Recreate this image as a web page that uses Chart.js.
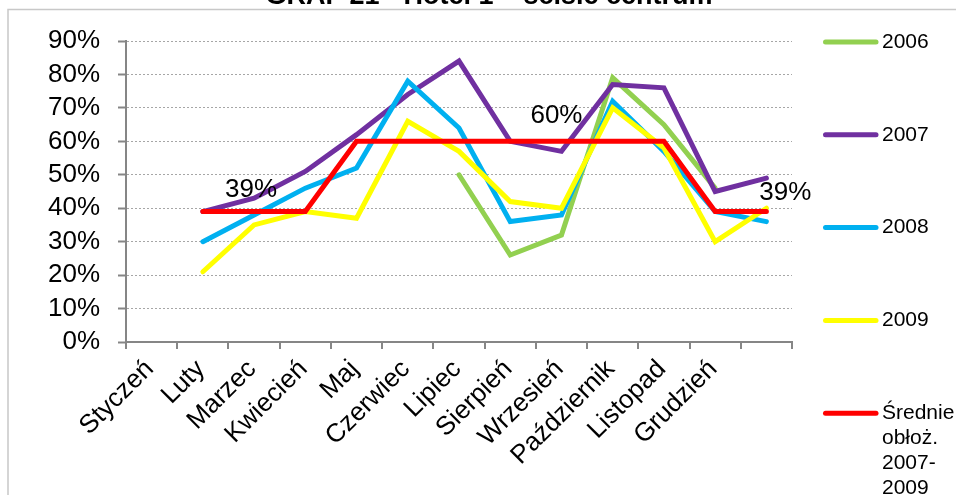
<!DOCTYPE html>
<html>
<head>
<meta charset="utf-8">
<title>GRAF 21 - Hotel 1</title>
<script src="https://cdn.jsdelivr.net/npm/chart.js@4.4.0/dist/chart.umd.min.js"></script>
<style>
  html, body { margin: 0; padding: 0; background: #fff; overflow: hidden; }
  #wrap { width: 956px; height: 495px; position: relative; }
</style>
</head>
<body>
<div id="wrap"><canvas id="chart" width="956" height="495"></canvas></div>
<script>
// Monthly occupancy (%) per year; the 13th slot closes the category axis.
const months = ['Styczeń', 'Luty', 'Marzec', 'Kwiecień', 'Maj', 'Czerwiec', 'Lipiec',
                'Sierpień', 'Wrzesień', 'Październik', 'Listopad', 'Grudzień', ''];
const occ2006 = [null, null, null, null, null, null, 50, 26, 32, 79, 65, 46, null];
const occ2007 = [null, 39, 43, 51, 62, 74, 84, 60, 57, 77, 76, 45, 49];
const occ2008 = [null, 30, 38, 46, 52, 78, 64, 36, 38, 72, 57, 39, 36];
const occ2009 = [null, 21, 35, 39, 37, 66, 57, 42, 40, 70, 58, 30, 40];
const avg2007to2009 = [null, 39, 39, 39, 60, 60, 60, 60, 60, 60, 60, 39, 39];
const yTickValues = [0, 10, 20, 30, 40, 50, 60, 70, 80, 90];
const seriesNames = ['2006', '2007', '2008', '2009', 'Średnie obłoż. 2007-2009'];
const legendLines = [['2006'], ['2007'], ['2008'], ['2009'], ['Średnie', 'obłoż.', '2007-', '2009']];
const avgLabelIndexes = [2, 8, 12];
const chartTitle = 'GRAF 21 - Hotel 1 – ścisłe centrum';

const FONT = '"Liberation Sans", Arial, Helvetica, sans-serif';
const AXIS_GREY = '#868686';

function lineSeries(i, data, color, order) {
  return {
    label: seriesNames[i],
    legendText: legendLines[i],
    data: data,
    borderColor: color,
    backgroundColor: color,
    borderWidth: 5,
    borderCapStyle: 'round',
    borderJoinStyle: 'miter',
    pointRadius: 0,
    pointHoverRadius: 0,
    tension: 0,
    fill: false,
    spanGaps: false,
    order: order
  };
}

// White page, outer frame and the chart heading
const framePlugin = {
  id: 'frame',
  beforeDraw(chart) {
    const ctx = chart.ctx;
    ctx.save();
    ctx.fillStyle = '#ffffff';
    ctx.fillRect(0, 0, chart.width, chart.height);
    ctx.strokeStyle = '#c8c8c8';
    ctx.lineWidth = 1.5;
    ctx.beginPath();
    ctx.moveTo(8, chart.height + 2);
    ctx.lineTo(8, 9.5);
    ctx.lineTo(chart.width + 2, 9.5);
    ctx.stroke();
    ctx.fillStyle = '#000';
    ctx.font = 'bold 27px ' + FONT;
    ctx.textAlign = 'center';
    ctx.textBaseline = 'alphabetic';
    ctx.fillText(chartTitle, 489, 4);
    ctx.restore();
  }
};

// Legend on the right, one entry per series
const sideLegend = {
  id: 'sideLegend',
  afterDraw(chart, args, opts) {
    const ctx = chart.ctx;
    ctx.save();
    ctx.font = '21px ' + FONT;
    ctx.textBaseline = 'middle';
    ctx.textAlign = 'left';
    chart.data.datasets.forEach((ds, i) => {
      const y = opts.top + i * opts.step;
      ctx.strokeStyle = ds.borderColor;
      ctx.lineWidth = 5;
      ctx.lineCap = 'round';
      ctx.beginPath();
      ctx.moveTo(opts.x1, y);
      ctx.lineTo(opts.x2, y);
      ctx.stroke();
      ctx.fillStyle = '#000';
      ds.legendText.forEach((t, k) => ctx.fillText(t, opts.textX, y + k * opts.lineHeight));
    });
    ctx.restore();
  }
};

// Value labels on the average line
const avgLabels = {
  id: 'avgLabels',
  afterDatasetsDraw(chart, args, opts) {
    const ctx = chart.ctx;
    const meta = chart.getDatasetMeta(opts.datasetIndex);
    const data = chart.data.datasets[opts.datasetIndex].data;
    ctx.save();
    ctx.font = '26px ' + FONT;
    ctx.fillStyle = '#000';
    ctx.textAlign = 'center';
    ctx.textBaseline = 'middle';
    opts.items.forEach(item => {
      const pt = meta.data[item.index];
      ctx.fillText(data[item.index] + '%', pt.x + item.dx, pt.y + item.dy);
    });
    ctx.restore();
  }
};

new Chart(document.getElementById('chart'), {
  type: 'line',
  data: {
    labels: months,
    datasets: [
      lineSeries(0, occ2006, '#92D050', 5),
      lineSeries(1, occ2007, '#7030A0', 4),
      lineSeries(2, occ2008, '#00B0F0', 3),
      lineSeries(3, occ2009, '#FFFF00', 2),
      lineSeries(4, avg2007to2009, '#FF0000', 1)
    ]
  },
  options: {
    responsive: false,
    devicePixelRatio: 1,
    animation: false,
    events: [],
    layout: { padding: { left: 8, right: 164, top: 41, bottom: 0 } },
    plugins: {
      legend: { display: false },
      tooltip: { enabled: false },
      title: { display: false },
      sideLegend: { x1: 825.5, x2: 876, textX: 882, top: 42, step: 92.8, lineHeight: 25 },
      avgLabels: {
        datasetIndex: 4,
        items: [
          { index: avgLabelIndexes[0], dx: -3, dy: -22 },
          { index: avgLabelIndexes[1], dx: -5, dy: -26 },
          { index: avgLabelIndexes[2], dx: 19, dy: -19 }
        ]
      }
    },
    scales: {
      x: {
        type: 'category',
        offset: true,
        grid: {
          offset: true,
          drawOnChartArea: false,
          drawTicks: true,
          tickLength: 7,
          color: AXIS_GREY,
          lineWidth: 2
        },
        border: { color: AXIS_GREY, width: 2 },
        ticks: {
          autoSkip: false,
          minRotation: 45,
          maxRotation: 45,
          padding: 5,
          labelOffset: -2,
          color: '#000',
          font: { size: 26, family: FONT }
        },
        afterFit(scale) { scale.height = 153; }
      },
      y: {
        min: yTickValues[0],
        max: yTickValues[yTickValues.length - 1],
        afterBuildTicks(scale) { scale.ticks = yTickValues.map(v => ({ value: v })); },
        ticks: {
          autoSkip: false,
          padding: 18,
          color: '#000',
          font: { size: 26, family: FONT, lineHeight: 1 },
          callback: v => v + '%'
        },
        grid: {
          color: '#a6a6a6',
          lineWidth: 1,
          tickLength: 8,
          tickColor: AXIS_GREY,
          tickWidth: 2,
          tickBorderDash: []
        },
        border: { color: AXIS_GREY, width: 2, dash: [2, 2] },
        afterFit(scale) { scale.width = 118; }
      }
    }
  },
  plugins: [framePlugin, sideLegend, avgLabels]
});
</script>
</body>
</html>
